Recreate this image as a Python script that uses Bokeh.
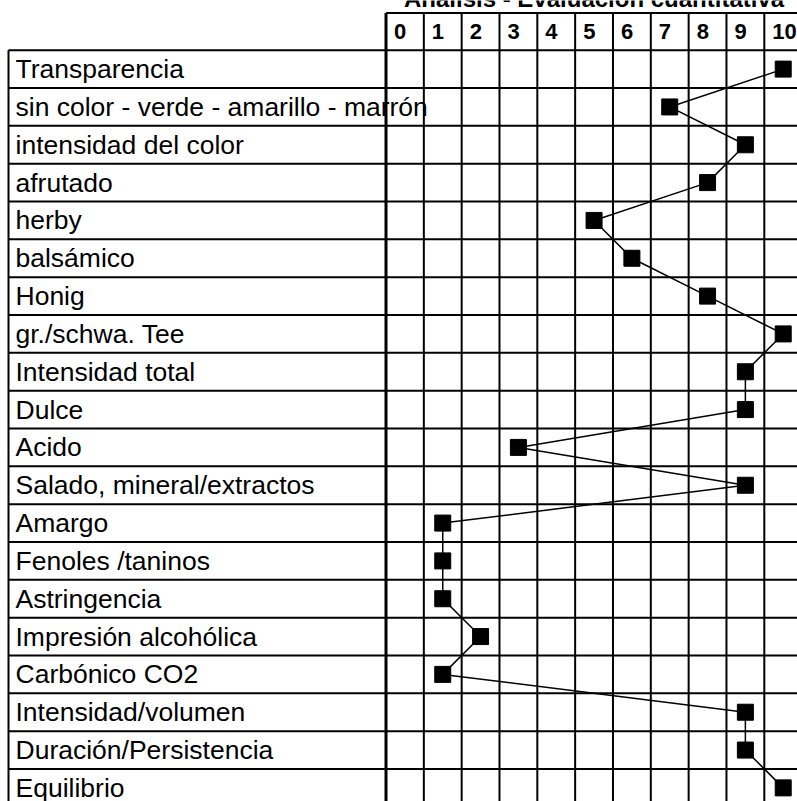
from bokeh.plotting import figure
from bokeh.embed import file_html
from bokeh.resources import INLINE
from bokeh.models import Range1d, ColumnDataSource
from bokeh.core.properties import value

title = "Análisis - Evaluación cuantitativa"
scale = ["0", "1", "2", "3", "4", "5", "6", "7", "8", "9", "10"]
attributes = [
    "Transparencia",
    "sin color - verde - amarillo - marrón",
    "intensidad del color",
    "afrutado",
    "herby",
    "balsámico",
    "Honig",
    "gr./schwa. Tee",
    "Intensidad total",
    "Dulce",
    "Acido",
    "Salado, mineral/extractos",
    "Amargo",
    "Fenoles /taninos",
    "Astringencia",
    "Impresión alcohólica",
    "Carbónico CO2",
    "Intensidad/volumen",
    "Duración/Persistencia",
    "Equilibrio",
]
scores = [10, 7, 9, 8, 5, 6, 8, 10, 9, 9, 3, 9, 1, 1, 1, 2, 1, 9, 9, 10]

# layout constants (units = one cell)
UNIT = 37.83
W, H = 797, 801
x0 = -0.5 - 385.5 / UNIT
x1 = x0 + W / UNIT
LB = x0 + 8.0 / UNIT             # left edge of label column
ytop = 0.5 + 49.7 / UNIT
ybot = ytop - H / UNIT
head_top = ytop - 12.5 / UNIT

p = figure(width=W, height=H, output_backend="svg", toolbar_location=None,
           x_range=Range1d(x0, x1), y_range=Range1d(ybot, ytop),
           min_border=0, outline_line_color=None)
p.axis.visible = False
p.grid.visible = False
p.background_fill_color = "white"
p.border_fill_color = "white"

n_rows = len(attributes)
n_cols = len(scale)
ys = [-i for i in range(n_rows)]
font = value("Liberation Sans")

# horizontal row lines (labels + grid)
hy = [0.5 - i for i in range(n_rows + 1)]
p.segment(x0=[LB] * len(hy), x1=[n_cols - 0.5] * len(hy), y0=hy, y1=hy,
          line_color="black", line_width=2)
# header lines
p.segment(x0=[-0.5], x1=[n_cols - 0.5], y0=[head_top], y1=[head_top],
          line_color="black", line_width=2)
# vertical grid lines
vx = [c - 0.5 for c in range(n_cols + 1)]
p.segment(x0=vx, x1=vx, y0=[head_top] * len(vx), y1=[0.5 - n_rows] * len(vx),
          line_color="black", line_width=2)
p.segment(x0=[-0.5], x1=[-0.5], y0=[head_top], y1=[0.5 - n_rows],
          line_color="black", line_width=3)
# label column left border
p.segment(x0=[LB], x1=[LB], y0=[0.5], y1=[0.5 - n_rows],
          line_color="black", line_width=2)

# labels
p.text(x=[LB] * n_rows, y=ys, text=attributes, x_offset=7,
       text_font=font, text_font_size="26.5px", text_baseline="middle",
       text_align="left", text_color="black")

# header numbers
hx = [c - 0.5 for c in range(n_cols)]
p.text(x=hx, y=[(head_top + 0.5) / 2] * n_cols, text=scale, x_offset=8,
       text_font=font, text_font_size="22px", text_font_style="bold",
       text_baseline="middle", text_align="left", text_color="black")

# title (top part cut off by the page edge, as in the reference)
p.text(x=[(n_cols - 1) / 2], y=[ytop + 2 / UNIT], text=[title],
       text_font=font, text_font_size="24px", text_font_style="bold",
       text_baseline="alphabetic", text_align="center", text_color="black")

# profile
src = ColumnDataSource(dict(x=scores, y=ys))
p.line("x", "y", source=src, line_color="black", line_width=1.5)
p.scatter("x", "y", source=src, marker="square", size=16,
          fill_color="black", line_color="black")

open("out.html", "w").write(file_html(p, INLINE))
